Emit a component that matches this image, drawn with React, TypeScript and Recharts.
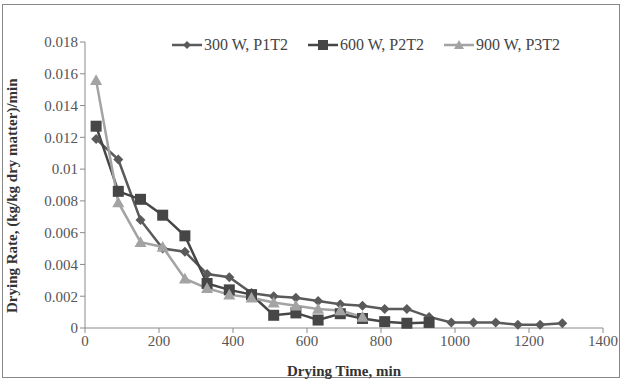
import React from 'react'
import { LineChart, Line, XAxis, YAxis, Legend } from 'recharts'

// drying time (min) for each measurement
const times300 = [30, 90, 150, 210, 270, 330, 390, 450, 510, 570, 630, 690, 750, 810, 870, 930, 990, 1050, 1110, 1170, 1230, 1290]
const rate300 = [0.0119, 0.0106, 0.0068, 0.0050, 0.0048, 0.0034, 0.0032, 0.0022, 0.0020, 0.0019, 0.0017, 0.0015, 0.0014, 0.0012, 0.0012, 0.0007, 0.00035, 0.00035, 0.00035, 0.0002, 0.0002, 0.0003]

const times600 = [30, 90, 150, 210, 270, 330, 390, 450, 510, 570, 630, 690, 750, 810, 870, 930]
const rate600 = [0.0127, 0.0086, 0.0081, 0.0071, 0.0058, 0.0028, 0.0024, 0.0021, 0.0008, 0.00095, 0.0005, 0.0009, 0.0006, 0.0004, 0.0003, 0.00035]

const times900 = [30, 90, 150, 210, 270, 330, 390, 450, 510, 570, 630, 690, 750]
const rate900 = [0.0156, 0.0079, 0.0054, 0.0051, 0.0031, 0.0025, 0.0021, 0.0019, 0.0016, 0.0014, 0.0012, 0.0011, 0.0007]

const xTicks = [0, 200, 400, 600, 800, 1000, 1200, 1400]
const yTicks = [0, 0.002, 0.004, 0.006, 0.008, 0.01, 0.012, 0.014, 0.016, 0.018]

const toPoints = (xs: number[], ys: number[]) => xs.map((x, i) => ({ x, y: ys[i] }))

const FONT = '"Liberation Serif", "Times New Roman", serif'

const Diamond = ({ cx, cy, fill, size = 5 }: any) => (
  <path d={`M${cx},${cy - size}L${cx + size},${cy}L${cx},${cy + size}L${cx - size},${cy}Z`} fill={fill} />
)
const Square = ({ cx, cy, fill, size = 5.5 }: any) => (
  <rect x={cx - size} y={cy - size} width={size * 2} height={size * 2} fill={fill} />
)
const Triangle = ({ cx, cy, fill, size = 6 }: any) => (
  <path d={`M${cx},${cy - size}L${cx + size},${cy + size * 0.8}L${cx - size},${cy + size * 0.8}Z`} fill={fill} />
)

const series = [
  { name: '300 W, P1T2', data: toPoints(times300, rate300), color: '#5a5a5a', Shape: Diamond },
  { name: '600 W, P2T2', data: toPoints(times600, rate600), color: '#464646', Shape: Square },
  { name: '900 W, P3T2', data: toPoints(times900, rate900), color: '#a3a3a3', Shape: Triangle },
]

const fmt = (v: number) => String(Number(v.toFixed(3)))

const renderLegend = () => (
  <div style={{ display: 'flex', fontFamily: FONT, fontSize: 16, color: '#444' }}>
    {series.map(s => (
      <div key={s.name} style={{ display: 'flex', alignItems: 'center', marginRight: 20 }}>
        <svg width={30} height={14}>
          <line x1={0} y1={7} x2={30} y2={7} stroke={s.color} strokeWidth={2.5} />
          <s.Shape cx={15} cy={7} fill={s.color} size={s.Shape === Diamond ? 4 : 5} />
        </svg>
        <span style={{ marginLeft: 2 }}>{s.name}</span>
      </div>
    ))}
  </div>
)

export default function App() {
  return (
    <div style={{ position: 'absolute', left: 0, top: 0, width: 622, height: 380, background: '#fff' }}>
      <div style={{ position: 'absolute', left: 2, top: 4, width: 616, height: 372, border: '1px solid #888' }} />
      <LineChart width={622} height={380} margin={{ top: 24, right: 19, left: 0, bottom: 0 }}>
        <XAxis
          type="number"
          dataKey="x"
          domain={[0, 1400]}
          ticks={xTicks}
          height={52}
          stroke="#8a8a8a"
          tickSize={5}
          tick={{ fill: '#555', fontSize: 15, fontFamily: FONT }}
          label={{ value: 'Drying Time, min', position: 'insideBottom', offset: 4, style: { fill: '#333', fontSize: 15, fontWeight: 'bold', fontFamily: FONT } }}
        />
        <YAxis
          type="number"
          dataKey="y"
          domain={[0, 0.018]}
          ticks={yTicks}
          width={85}
          stroke="#8a8a8a"
          tickSize={5}
          tickFormatter={fmt}
          tick={{ fill: '#555', fontSize: 15, fontFamily: FONT }}
          label={{ value: 'Drying Rate, (kg/kg dry matter)/min', angle: -90, position: 'insideLeft', offset: 12, dy: 128, style: { fill: '#333', fontSize: 15, fontWeight: 'bold', fontFamily: FONT } }}
        />
        <Legend verticalAlign="top" content={renderLegend} wrapperStyle={{ top: 36, left: 172, width: 440 }} />
        {series.map(s => (
          <Line
            key={s.name}
            name={s.name}
            data={s.data}
            dataKey="y"
            type="linear"
            stroke={s.color}
            strokeWidth={2.5}
            dot={(p: any) => <s.Shape key={`${s.name}-${p.index}`} cx={p.cx} cy={p.cy} fill={s.color} />}
            isAnimationActive={false}
          />
        ))}
      </LineChart>
    </div>
  )
}
